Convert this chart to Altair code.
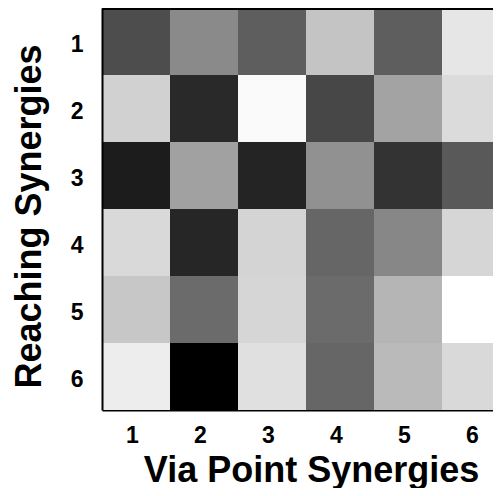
import altair as alt
import pandas as pd

# Reaching synergy (rows) vs via-point synergy (columns); darker = higher similarity
reaching = [1, 2, 3, 4, 5, 6]
via_point = [1, 2, 3, 4, 5, 6]
similarity = [
    [0.70, 0.46, 0.63, 0.23, 0.63, 0.10],
    [0.18, 0.84, 0.02, 0.72, 0.36, 0.14],
    [0.89, 0.37, 0.86, 0.43, 0.80, 0.65],
    [0.15, 0.85, 0.17, 0.60, 0.47, 0.16],
    [0.22, 0.58, 0.16, 0.58, 0.29, 0.00],
    [0.07, 1.00, 0.12, 0.60, 0.27, 0.15],
]

rows = []
for i, r in enumerate(reaching):
    for j, v in enumerate(via_point):
        rows.append({"reach": r, "via": v, "sim": similarity[i][j]})
df = pd.DataFrame(rows)

FONT = "Liberation Sans"

# the right-most column is partly cut off by the figure edge, as in the original
x_scale = alt.Scale(domain=[0.5, 6.25], nice=False, zero=False)

heat = alt.Chart(df).transform_calculate(
    x0="datum.via - 0.5", x1="datum.via + 0.5"
).mark_rect(clip=True).encode(
    x=alt.X(
        "x0:Q",
        scale=x_scale,
        axis=alt.Axis(
            title="Via Point Synergies",
            values=via_point,
            format="d",
            titleFont=FONT,
            titleFontSize=36,
            titleFontWeight="bold",
            titleColor="black",
            titleBaseline="alphabetic",
            titleX=209,
            titleY=71,
            labelFont=FONT,
            labelFontSize=23,
            labelFontWeight="bold",
            labelColor="black",
            labelAngle=0,
            labelPadding=14,
            labelOffset=-4,
            labelFlush=False,
            ticks=False,
            grid=False,
            domain=True,
            domainColor="black",
            domainWidth=2,
        ),
    ),
    x2="x1:Q",
    y=alt.Y(
        "reach:O",
        scale=alt.Scale(paddingInner=0, paddingOuter=0),
        axis=alt.Axis(
            title="Reaching Synergies",
            titleFont=FONT,
            titleFontSize=36,
            titleFontWeight="bold",
            titleColor="black",
            titleBaseline="alphabetic",
            titleX=-62,
            titleY=208,
            labelFont=FONT,
            labelFontSize=23,
            labelFontWeight="bold",
            labelColor="black",
            labelPadding=19,
            labelOffset=3,
            ticks=False,
            domain=True,
            domainColor="black",
            domainWidth=2,
        ),
    ),
    color=alt.Color(
        "sim:Q",
        scale=alt.Scale(domain=[0, 1], range=["white", "black"], interpolate="rgb"),
        legend=None,
    ),
)

top = alt.Chart(df).mark_rule(color="black", strokeWidth=2).encode(
    x=alt.value(0), x2=alt.value(391), y=alt.value(1)
)

chart = alt.layer(heat, top).properties(
    width=391,
    height=402,
    autosize=alt.AutoSizeParams(type="none"),
    padding={"left": 94, "top": 0, "right": 0, "bottom": 78},
).configure_view(stroke=None)

chart.save("out.html", embed_options={"renderer": "svg", "actions": False})
